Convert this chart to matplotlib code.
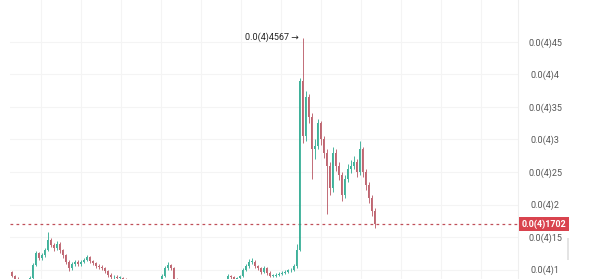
import numpy as np
import matplotlib
matplotlib.use("Agg")
import matplotlib.pyplot as plt
from matplotlib.patches import Rectangle

plt.rcParams["font.family"] = ["Roboto", "DejaVu Sans"]

# prices in units of 1e-5 (0.0(4)x notation)
first_open = 0.96
closes = [
    0.90, 0.86, 0.83, 0.80, 0.78, 0.82, 0.87, 1.07, 1.25, 1.18, 1.22, 1.30, 1.45, 1.38,
    1.33, 1.40, 1.30, 1.22, 1.12, 1.02, 1.08, 1.12, 1.08, 1.12, 1.15, 1.19, 1.13, 1.10,
    1.05, 1.04, 1.02, 0.98, 0.92, 0.88, 0.89, 0.87, 0.87, 0.85,
    0.82, 0.80, 0.79, 0.77, 0.78, 0.76, 0.77, 0.75, 0.78, 0.80, 0.79, 0.82,
    0.90, 1.02, 1.07, 1.02, 0.85,
    0.80, 0.78, 0.76, 0.77, 0.75, 0.74, 0.76, 0.75, 0.77, 0.78, 0.76, 0.79, 0.80, 0.82,
    0.81, 0.83, 0.84,
    0.90, 0.88, 0.85, 0.87, 0.90, 0.99, 1.05, 1.12, 1.12, 1.05, 1.02, 0.96, 1.02, 0.95,
    0.90, 0.90, 0.92, 0.93, 0.95, 0.96, 0.99, 0.99, 1.05, 1.30,
    3.90, 3.05, 3.65, 3.35, 2.85, 2.90, 3.25, 3.00, 2.80, 2.60, 2.25, 2.80, 2.60, 2.45,
    2.15, 2.40, 2.55, 2.60, 2.65, 2.50, 2.85, 2.50, 2.30, 2.10, 1.90, 1.702,
]
highs = [
    0.98, 0.92, 0.88, 0.85, 0.83, 0.84, 0.90, 1.10, 1.28, 1.27, 1.26, 1.33, 1.57, 1.49,
    1.41, 1.44, 1.42, 1.32, 1.24, 1.14, 1.11, 1.15, 1.14, 1.15, 1.18, 1.22, 1.21, 1.15,
    1.12, 1.08, 1.07, 1.04, 1.00, 0.94, 0.92, 0.91, 0.90, 0.89,
    0.87, 0.84, 0.82, 0.81, 0.80, 0.80, 0.79, 0.79, 0.80, 0.82, 0.82, 0.84,
    0.93, 1.05, 1.12, 1.09, 1.04,
    0.87, 0.82, 0.80, 0.79, 0.79, 0.77, 0.78, 0.78, 0.79, 0.80, 0.80, 0.81, 0.82, 0.84,
    0.84, 0.85, 0.86,
    0.93, 0.92, 0.90, 0.89, 0.92, 1.02, 1.08, 1.16, 1.17, 1.14, 1.07, 1.04, 1.05, 1.04,
    0.97, 0.93, 0.94, 0.96, 0.97, 0.99, 1.01, 1.02, 1.08, 1.40,
    3.95, 4.567, 3.75, 3.70, 3.40, 3.00, 3.32, 3.28, 3.05, 2.85, 2.65, 2.88, 2.85, 2.65,
    2.50, 2.45, 2.62, 2.68, 2.75, 2.70, 2.97, 2.88, 2.55, 2.35, 2.15, 1.95,
]
lows = [
    0.88, 0.84, 0.80, 0.77, 0.76, 0.76, 0.80, 0.85, 1.05, 1.14, 1.15, 1.19, 1.28, 1.34,
    1.29, 1.30, 1.26, 1.18, 1.08, 0.98, 1.00, 1.05, 1.05, 1.06, 1.10, 1.13, 1.10, 1.07,
    1.02, 1.01, 0.99, 0.95, 0.89, 0.86, 0.86, 0.85, 0.85, 0.83,
    0.80, 0.78, 0.77, 0.75, 0.75, 0.74, 0.74, 0.73, 0.73, 0.76, 0.77, 0.77,
    0.80, 0.88, 1.00, 0.99, 0.83,
    0.78, 0.76, 0.74, 0.74, 0.73, 0.72, 0.72, 0.73, 0.73, 0.75, 0.74, 0.74, 0.77, 0.78,
    0.79, 0.79, 0.81,
    0.82, 0.86, 0.83, 0.83, 0.85, 0.88, 0.97, 1.03, 1.09, 1.02, 0.99, 0.93, 0.94, 0.92,
    0.88, 0.88, 0.88, 0.90, 0.91, 0.93, 0.94, 0.96, 0.97, 1.03,
    1.28, 2.95, 2.98, 3.25, 2.40, 2.70, 2.85, 2.92, 2.72, 1.85, 2.15, 2.20, 2.52, 2.38,
    2.05, 2.10, 2.35, 2.48, 2.55, 2.42, 2.45, 2.42, 2.22, 2.02, 1.82, 1.64,
]

y_ticks = [1.0, 1.5, 2.0, 2.5, 3.0, 3.5, 4.0, 4.5]
y_tick_labels = ["0.0(4)1", "0.0(4)15", "0.0(4)2", "0.0(4)25",
                 "0.0(4)3", "0.0(4)35", "0.0(4)4", "0.0(4)45"]
last_label = "0.0(4)1702"
peak_label = "0.0(4)4567 \u2192"

up_color = "#2aa98f"
down_color = "#b85562"
price_color = "#d9434e"

closes = np.array(closes)
opens = np.concatenate([[first_open], closes[:-1]])
highs = np.array(highs)
lows = np.array(lows)
idx = np.arange(len(closes))
up = closes >= opens
colors = np.where(up, up_color, down_color)

fig = plt.figure(figsize=(6, 2.79), dpi=100)
ax = fig.add_axes([10 / 600, 0, 508 / 600, 1])

# wicks and bodies
ax.vlines(idx, lows, highs, colors=colors, linewidth=0.6, zorder=3)
body_lo = np.minimum(opens, closes)
body_h = np.maximum(np.abs(closes - opens), 0.01)
ax.bar(idx, body_h, bottom=body_lo, width=0.5, color=colors, linewidth=0,
       alpha=0.9, zorder=4)

ax.set_xlim(-0.5, -0.5 + 508 / 3)
ax.set_ylim(0.854, 5.146)

# faint grid
ax.set_xticks(np.arange(9.83, 168, 13.33))
ax.set_yticks(y_ticks)
ax.set_yticklabels(y_tick_labels)
ax.grid(True, color="#f4f4f4", linewidth=0.8, zorder=0)
ax.yaxis.tick_right()
ax.tick_params(axis="x", length=0, labelbottom=False)
ax.tick_params(axis="y", length=0, pad=19.5, labelsize=6.5, labelcolor="#555555")
for lab in ax.get_yticklabels():
    lab.set_horizontalalignment("center")
for side in ["top", "bottom", "left"]:
    ax.spines[side].set_visible(False)
ax.spines["right"].set_color("#efefef")
ax.spines["right"].set_linewidth(0.8)

# last price line and label
last = closes[-1]
ax.axhline(last, color="#c0505a", linestyle=(0, (2.2, 2.6)), linewidth=0.9, zorder=2)
ax.text(1.051, last, last_label, transform=ax.get_yaxis_transform(),
        ha="center", va="center", fontsize=6.5, color="white", fontweight="bold",
        bbox=dict(boxstyle="square,pad=0.25", facecolor=price_color, edgecolor="none"),
        clip_on=False, zorder=6)

# peak annotation
pk = int(np.argmax(highs))
ax.annotate(peak_label, xy=(pk, highs[pk]), xytext=(-3, 0), textcoords="offset points",
            ha="right", va="center", fontsize=6.5, color="#222222", zorder=6)

# small scrollbar mark on the price scale
fig.add_artist(Rectangle((567 / 600, 19 / 279), 2 / 600, 22 / 279,
                         transform=fig.transFigure, facecolor="#e4e4e4", edgecolor="none"))

fig.savefig("out.png", dpi=100)
